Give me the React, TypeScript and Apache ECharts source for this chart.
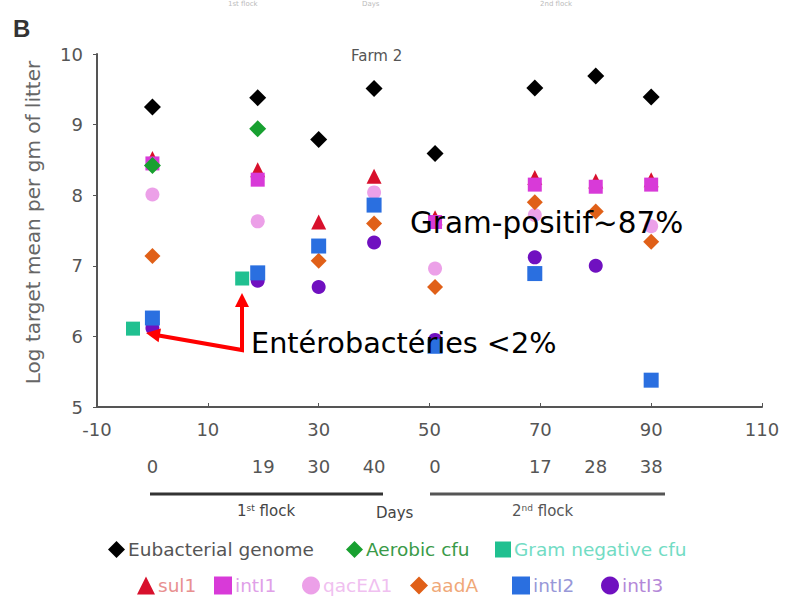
import React, { useEffect, useRef } from "react";
import * as echarts from "echarts";

// ---- data ----
const eubX = [0, 19, 30, 40, 51, 69, 80, 90];
const eubacterial = [9.25, 9.38, 8.79, 9.51, 8.59, 9.52, 9.69, 9.39];
const aerobicX = [0, 19];
const aerobic = [8.42, 8.94];
const gramNegX = [-3.5, 16.2];
const gramNeg = [6.11, 6.82];
const sul1X = [0, 19, 30, 40, 51, 69, 80, 90];
const sul1 = [8.52, 8.36, 7.62, 8.27, 7.68, 8.25, 8.2, 8.22];
const intI1X = [0, 19, 51, 69, 80, 90];
const intI1 = [8.45, 8.22, 7.62, 8.15, 8.12, 8.15];
const qacX = [0, 19, 40, 51, 69, 90];
const qac = [8.01, 7.63, 8.04, 6.96, 7.72, 7.56];
const aadAX = [0, 30, 40, 51, 69, 80, 90];
const aadA = [7.14, 7.07, 7.6, 6.7, 7.9, 7.77, 7.34];
const intI2X = [0, 19, 30, 40, 51, 69, 90];
const intI2 = [6.26, 6.9, 7.28, 7.86, 5.86, 6.89, 5.38];
const intI3X = [0, 19, 30, 40, 51, 69, 80];
const intI3 = [6.12, 6.79, 6.7, 7.33, 5.95, 7.12, 7.0];

const dayTickPos = [0, 20, 30, 40, 51, 70, 80, 90];
const dayTickLabels = ["0", "19", "30", "40", "0", "17", "28", "38"];

const zip = (xs: number[], ys: number[]) => xs.map((x, i) => [x, ys[i]]);

const FONT = "DejaVu Sans";

export default function App() {
  const ref = useRef<HTMLDivElement>(null);
  useEffect(() => {
    const chart = echarts.init(ref.current!, null, { renderer: "svg" });
    const mk = (
      name: string,
      xs: number[],
      ys: number[],
      symbol: string,
      size: number,
      color: string,
      z: number
    ) => ({
      name,
      type: "scatter",
      data: zip(xs, ys),
      symbol,
      symbolSize: size,
      itemStyle: { color, opacity: 1 },
      z,
    });
    const legendItem = (
      name: string,
      left: number,
      top: number,
      textColor: string,
      size = 18
    ) => ({
      left,
      top,
      padding: 0,
      itemWidth: size,
      itemHeight: size,
      itemGap: 4,
      data: [{ name, textStyle: { color: textColor } }],
      textStyle: { fontFamily: FONT, fontSize: 18.5, padding: [0, 0, 0, -2] },
      selectedMode: false,
    });
    const arrowHead = (tx: number, ty: number, dx: number, dy: number) => {
      const len = 14;
      const w = 7;
      const bx = tx - dx * len;
      const by = ty - dy * len;
      const px = -dy;
      const py = dx;
      return {
        type: "polygon",
        shape: {
          points: [
            [tx, ty],
            [bx + px * w, by + py * w],
            [bx - px * w, by - py * w],
          ],
        },
        style: { fill: "#ff0000" },
        z: 10,
      };
    };
    const v1x = 150 - 242;
    const v1y = 334 - 350;
    const l1 = Math.hypot(v1x, v1y);
    const option: any = {
      animation: false,
      backgroundColor: "#ffffff",
      grid: { left: 97, right: 31, top: 54, bottom: 197 },
      title: {
        text: "Farm 2",
        left: 351,
        top: 48,
        padding: 0,
        textStyle: { fontFamily: FONT, fontSize: 15, color: "#555", fontWeight: "normal" },
      },
      legend: [
        legendItem("Eubacterial genome", 108, 540, "#555555", 17),
        legendItem("Aerobic cfu", 346, 540, "#3a9a48", 17),
        legendItem("Gram negative cfu", 495, 540, "#72dcc4", 16),
        legendItem("sul1", 137, 576, "#e89090"),
        legendItem("intI1", 214, 576, "#e0a0e8"),
        legendItem("qacEΔ1", 302, 576, "#f0c0f0"),
        legendItem("aadA", 410, 576, "#f0a878"),
        legendItem("intI2", 512, 576, "#9898d8"),
        legendItem("intI3", 601, 576, "#b488d8"),
      ],
      xAxis: [
        {
          type: "value",
          min: -10,
          max: 110,
          interval: 20,
          axisLine: { onZero: false, lineStyle: { color: "#555", width: 2 } },
          axisTick: { show: true, inside: true, length: 4, lineStyle: { color: "#555" } },
          splitLine: { show: false },
          axisLabel: { fontFamily: FONT, fontSize: 18, color: "#555", margin: 13 },
        },
        {
          type: "value",
          min: -10,
          max: 110,
          interval: 1,
          position: "bottom",
          offset: 38,
          axisLine: { show: false },
          axisTick: { show: false },
          splitLine: { show: false },
          axisLabel: {
            interval: 0,
            hideOverlap: false,
            showMinLabel: true,
            showMaxLabel: true,
            fontFamily: FONT,
            fontSize: 18,
            color: "#555",
            margin: 12,
            formatter: (v: number) => {
              const i = dayTickPos.indexOf(Math.round(v));
              return i >= 0 ? dayTickLabels[i] : "";
            },
          },
        },
      ],
      yAxis: {
        type: "value",
        min: 5,
        max: 10,
        interval: 1,
        name: "Log target mean per gm of litter",
        nameLocation: "middle",
        nameGap: 54,
        nameTextStyle: { fontFamily: FONT, fontSize: 20, color: "#666", padding: [0, 0, 0, 16] },
        axisLine: { show: true, onZero: false, lineStyle: { color: "#555", width: 2 } },
        axisTick: { show: true, length: 4, lineStyle: { color: "#555" } },
        splitLine: { show: false },
        axisLabel: { fontFamily: FONT, fontSize: 18, color: "#555", margin: 14 },
      },
      series: [
        mk("sul1", sul1X, sul1, "triangle", 15, "#d8102c", 2),
        mk("intI1", intI1X, intI1, "rect", 14, "#d83ad8", 2),
        mk("qacEΔ1", qacX, qac, "circle", 14, "#eca0e8", 2),
        mk("aadA", aadAX, aadA, "diamond", 16, "#e06018", 2),
        mk("intI3", intI3X, intI3, "circle", 14, "#7010c0", 2),
        mk("intI2", intI2X, intI2, "rect", 15, "#2a6fe0", 3),
        mk("Gram negative cfu", gramNegX, gramNeg, "rect", 14, "#20c090", 3),
        mk("Aerobic cfu", aerobicX, aerobic, "diamond", 17, "#18a030", 4),
        mk("Eubacterial genome", eubX, eubacterial, "diamond", 17, "#000000", 4),
      ],
      graphic: [
        { type: "text", left: 13, top: 16, style: { text: "B", fontFamily: "Liberation Sans", fontSize: 24, fontWeight: "bold", fill: "#333" } },
        { type: "text", left: 228, top: 0, style: { text: "1st flock", fontFamily: FONT, fontSize: 7, fill: "#bbb" } },
        { type: "text", left: 362, top: 0, style: { text: "Days", fontFamily: FONT, fontSize: 7, fill: "#bbb" } },
        { type: "text", left: 540, top: 0, style: { text: "2nd flock", fontFamily: FONT, fontSize: 7, fill: "#bbb" } },
        { type: "line", shape: { x1: 150, y1: 494, x2: 383, y2: 494 }, style: { stroke: "#333", lineWidth: 3 } },
        { type: "line", shape: { x1: 430, y1: 494, x2: 665, y2: 494 }, style: { stroke: "#555", lineWidth: 3 } },
        {
          type: "text",
          left: 237,
          top: 503,
          style: {
            text: "{n|1}{s|st}{n| flock}",
            rich: {
              n: { fontFamily: FONT, fontSize: 15, fill: "#444", verticalAlign: "bottom" },
              s: { fontFamily: FONT, fontSize: 9, fill: "#444", verticalAlign: "top" },
            },
          },
        },
        { type: "text", left: 376, top: 505, style: { text: "Days", fontFamily: FONT, fontSize: 15, fill: "#444" } },
        {
          type: "text",
          left: 512,
          top: 503,
          style: {
            text: "{n|2}{s|nd}{n| flock}",
            rich: {
              n: { fontFamily: FONT, fontSize: 15, fill: "#555", verticalAlign: "bottom" },
              s: { fontFamily: FONT, fontSize: 9, fill: "#555", verticalAlign: "top" },
            },
          },
        },
        { type: "text", left: 410, top: 208, z: 20, style: { text: "Gram-positif~87%", fontFamily: FONT, fontSize: 29.5, fill: "#000" } },
        { type: "text", left: 251, top: 328, z: 20, style: { text: "Entérobactéries <2%", fontFamily: FONT, fontSize: 28.7, fill: "#000" } },
        {
          type: "polyline",
          shape: { points: [[242, 306], [242, 350], [150 + (v1x / l1) * -6, 334 + (v1y / l1) * -6]] },
          style: { stroke: "#ff0000", lineWidth: 4, fill: null },
          z: 10,
        },
        arrowHead(242, 293, 0, -1),
        arrowHead(146, 333, v1x / l1, v1y / l1),
      ],
    };
    chart.setOption(option);
    return () => chart.dispose();
  }, []);
  return <div ref={ref} style={{ width: 793, height: 604, position: "absolute", left: 0, top: 0 }} />;
}
